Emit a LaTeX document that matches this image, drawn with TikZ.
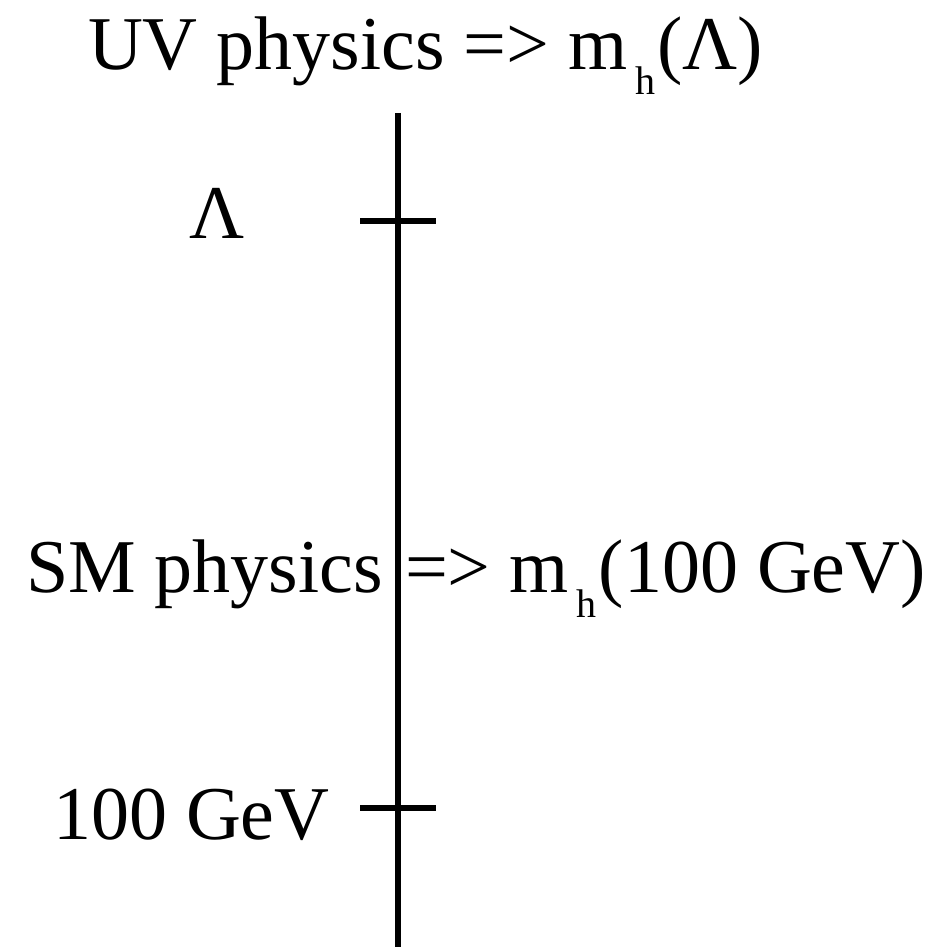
\documentclass[tikz,border=0pt]{standalone}
\usepackage{fontspec}
\setmainfont{Liberation Serif}
\newcommand\hsub{\hspace{0.1em}\raisebox{-12.5pt}{\fontsize{20}{20}\selectfont h}\hspace{0.03em}}
\begin{document}
\begin{tikzpicture}[x=0.5pt,y=-0.5pt,
  lbl/.style={inner sep=0pt,outer sep=0pt,font=\fontsize{38}{40}\selectfont},
  axis/.style={line width=2.7pt},
  tick/.style={line width=2.7pt}]
\useasboundingbox (0,0) rectangle (938,947);
% axis
\coordinate (top) at (398,113);
\coordinate (bot) at (398,947);
\draw[axis] (top) -- (bot);
% ticks
\coordinate (lamL) at (360,221);
\coordinate (lamR) at (436,221);
\draw[tick] (lamL) -- (lamR);
\coordinate (gevL) at (360,808);
\coordinate (gevR) at (436,808);
\draw[tick] (gevL) -- (gevR);
% labels
\node[lbl,anchor=base west] (uv) at (88,70) {UV physics => m\hsub(Λ)};
\node[lbl,anchor=base west] (lam) at (189,238) {Λ};
\node[lbl,anchor=base east] (sm) at (383,592) {SM physics};
\node[lbl,anchor=base west] (smr) at (405,592) {=> m\hsub(100 GeV)};
\node[lbl,anchor=base west] (gev) at (53,839) {100 GeV};
\end{tikzpicture}
\end{document}
